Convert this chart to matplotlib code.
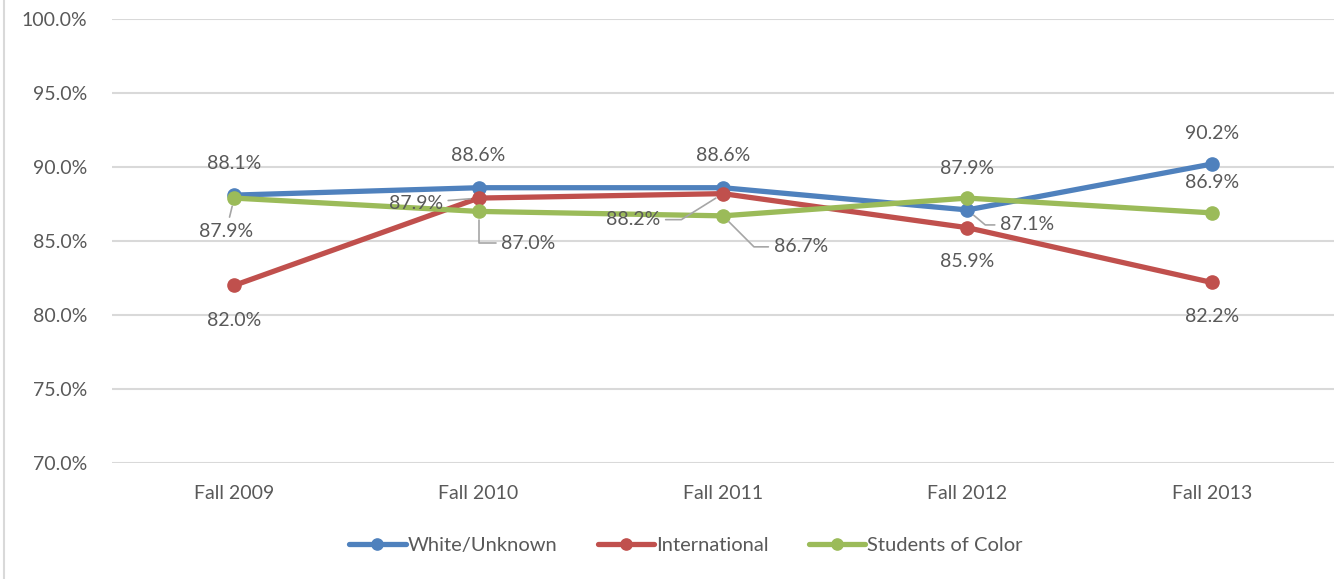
import matplotlib
matplotlib.use('Agg')
import matplotlib.pyplot as plt
from matplotlib.lines import Line2D

# data
terms = ['Fall 2009', 'Fall 2010', 'Fall 2011', 'Fall 2012', 'Fall 2013']
white = [88.1, 88.6, 88.6, 87.1, 90.2]
intl = [82.0, 87.9, 88.2, 85.9, 82.2]
soc = [87.9, 87.0, 86.7, 87.9, 86.9]
y_ticks = [70, 75, 80, 85, 90, 95, 100]

plt.rcParams['font.family'] = ['Lato', 'DejaVu Sans']
grey_txt = '#595959'

fig = plt.figure(figsize=(13.36, 5.79), dpi=100)
ax = fig.add_axes([0.0838, 0.2003, 0.9147, 0.7669])

series = [
    ('White/Unknown', white, '#4F81BD'),
    ('International', intl, '#C0504D'),
    ('Students of Color', soc, '#9BBB59'),
]
x = list(range(len(terms)))
for name, vals, col in series:
    ax.plot(x, vals, color=col, lw=3.8, marker='o', ms=9.5, label=name,
            solid_capstyle='round', zorder=3)

# label offsets in pixels (dx, dy) and leader: None = no leader, 's' = straight, number = elbow angle
offsets = {
    'White/Unknown': [(0, 32, None), (0, 32, None), (0, 32, None), (60, -15, -40), (0, 31, None)],
    'International': [(0, -35, None), (-63, -5, 's'), (-90, -26, 32), (0, -34, None), (0, -34, None)],
    'Students of Color': [(-8, -33, 's'), (50, -32, 90), (78, -31, -45), (0, 30, None), (0, 30, None)],
}
for name, vals, col in series:
    for i, v in enumerate(vals):
        dx, dy, ang = offsets[name][i]
        kw = {}
        if ang is not None:
            conn = 'arc3' if ang == 's' else 'angle,angleA=0,angleB=%d,rad=0' % ang
            kw['arrowprops'] = dict(arrowstyle='-', color='#A6A6A6', lw=1.2,
                                    shrinkA=2, shrinkB=6, connectionstyle=conn)
        ax.annotate('%.1f%%' % v, (i, v), xytext=(dx, dy), textcoords='offset pixels',
                    ha='center', va='center', fontsize=14, color=grey_txt, zorder=4, **kw)

ax.set_xlim(-0.5, len(terms) - 0.5)
ax.set_ylim(70, 100)
ax.set_yticks(y_ticks)
ax.set_yticklabels(['%.1f%%' % t for t in y_ticks])
ax.set_xticks(x)
ax.set_xticklabels(terms)
ax.tick_params(axis='both', length=0, labelsize=14, labelcolor=grey_txt)
ax.tick_params(axis='y', pad=18)
ax.tick_params(axis='x', pad=16)
ax.grid(axis='y', color='#D9D9D9', lw=1.5)
ax.set_axisbelow(True)
for s in ax.spines.values():
    s.set_visible(False)

fig.legend(loc='center', bbox_to_anchor=(686 / 1336, 1 - 545 / 579), ncol=3,
           frameon=False, fontsize=14.5, labelcolor=grey_txt, handlelength=2.8,
           handletextpad=0.1, columnspacing=2.0, markerscale=0.85)

# outer chart border on the left
fig.add_artist(Line2D([0.003, 0.003], [0, 1], color='#D9D9D9', lw=1.5))

fig.savefig('out.png', dpi=100)
